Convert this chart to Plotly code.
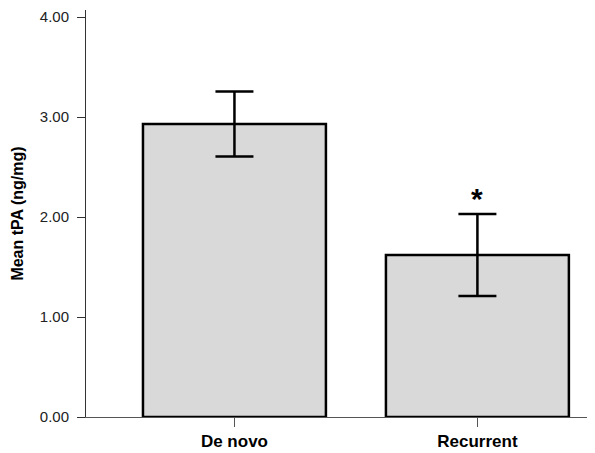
import plotly.graph_objects as go

categories = ["De novo", "Recurrent"]
means = [2.93, 1.62]
errors = [0.325, 0.41]
y_ticks = [0, 1, 2, 3, 4]
y_tick_labels = ["0.00", "1.00", "2.00", "3.00", "4.00"]
y_title = "Mean tPA (ng/mg)"
sig_marker = "*"

FONT = "Liberation Sans, Arial, sans-serif"

fig = go.Figure()
fig.add_trace(go.Bar(
    x=categories,
    y=means,
    width=0.753,
    marker=dict(color="#d9d9d9", line=dict(color="black", width=2.5)),
    error_y=dict(type="data", array=errors, visible=True,
                 color="black", thickness=2.5, width=19),
    showlegend=False,
))

fig.add_annotation(
    x=categories[1], y=means[1] + errors[1],
    text="<b>" + sig_marker + "</b>", showarrow=False,
    yanchor="bottom", yshift=-3,
    font=dict(size=30, color="black", family=FONT),
)

# page body has an 8px default margin, so the figure is sized to fit inside
fig.update_layout(
    width=587, height=445,
    margin=dict(l=78, r=0, t=0, b=36),
    paper_bgcolor="white", plot_bgcolor="white",
    font=dict(family=FONT, color="#222222"),
    xaxis=dict(
        range=[-0.611, 1.484],
        showline=True, linecolor="#555555", linewidth=1,
        ticks="outside", ticklen=9, tickcolor="#555555", tickwidth=1,
        tickfont=dict(size=17, color="black", family=FONT),
        tickvals=categories,
        ticktext=["<b>" + c + "</b>" for c in categories],
        showgrid=False, zeroline=False,
    ),
    yaxis=dict(
        range=[0, 4.07],
        showline=True, linecolor="#333333", linewidth=1,
        ticks="outside", ticklen=8, tickcolor="#333333", tickwidth=1,
        tickvals=y_ticks, ticktext=y_tick_labels,
        tickfont=dict(size=15, color="#222222"),
        ticklabelstandoff=5,
        ticklabeloverflow="allow",
        showgrid=False, zeroline=False,
        title=dict(text="<b>" + y_title + "</b>", standoff=12,
                   font=dict(size=16, color="black")),
    ),
)

fig.write_html("out.html")
